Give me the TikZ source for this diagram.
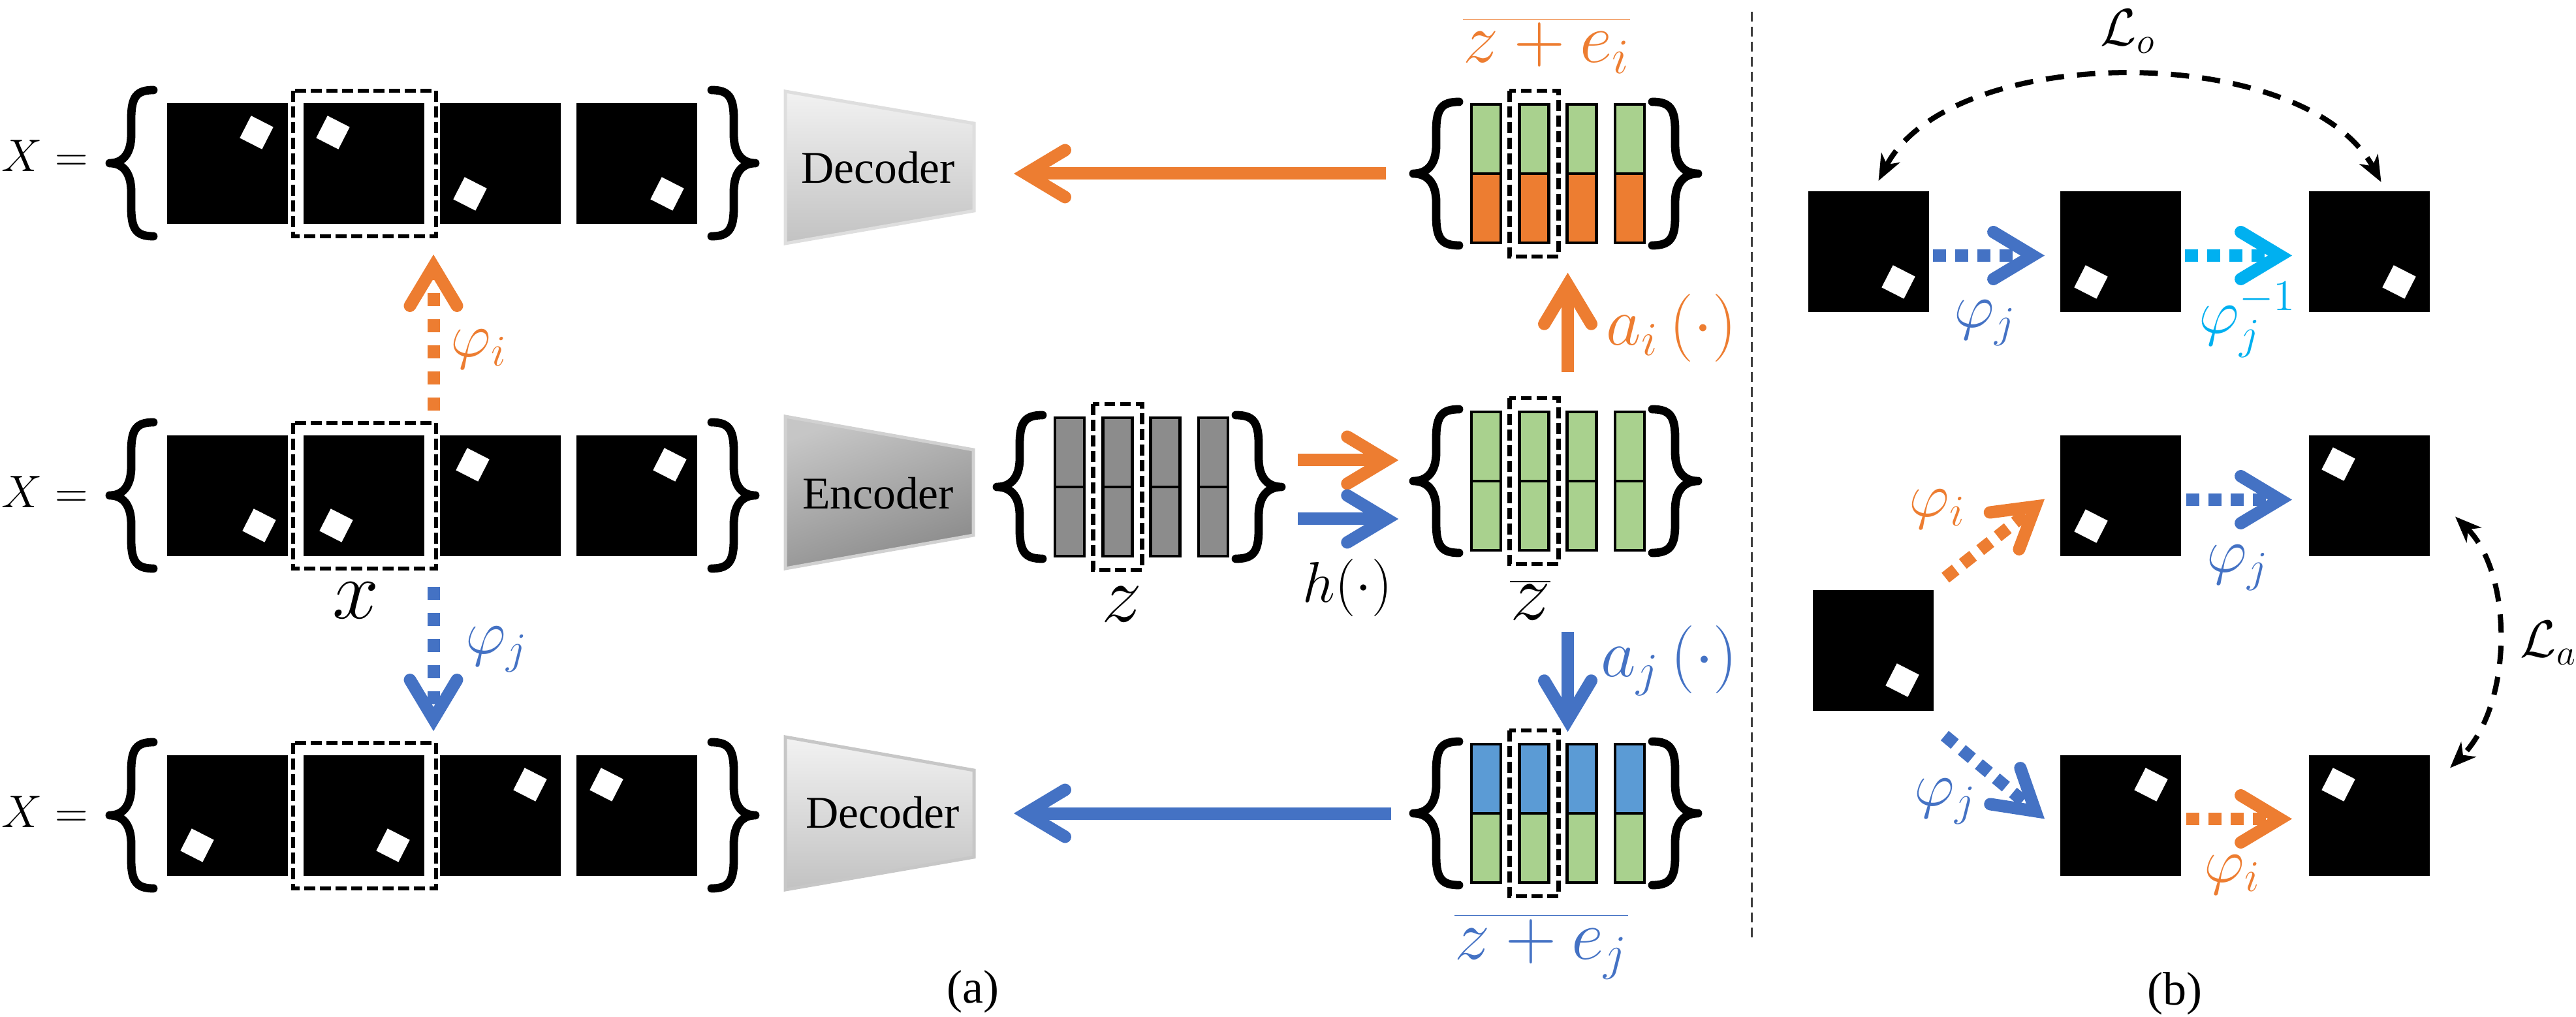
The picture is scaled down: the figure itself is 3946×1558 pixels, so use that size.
\RequirePackage{fix-cm}
\documentclass[tikz,border=0pt]{standalone}
\usepackage{fontspec}
\setmainfont{Liberation Serif}
\usetikzlibrary{arrows.meta,calc}
\definecolor{cor}{HTML}{ED7D31}
\definecolor{cbl}{HTML}{4472C4}
\definecolor{ccy}{HTML}{00B0F0}
\definecolor{cgr}{HTML}{A9D18E}
\definecolor{cbb}{HTML}{5B9BD5}
\definecolor{cgy}{HTML}{8C8C8C}
\definecolor{dtop}{HTML}{F2F2F2}
\definecolor{dmid}{HTML}{E6E6E6}
\definecolor{dbot}{HTML}{C2C2C2}
\definecolor{etop}{HTML}{C6C6C6}
\definecolor{ebot}{HTML}{8A8A8A}
\definecolor{sepc}{HTML}{404040}

\tikzset{
 img/.style={fill=black, minimum size=46.25pt, inner sep=0pt, outer sep=0pt},
 selbox/.style={line width=1.6pt, dash pattern=on 4.2pt off 1.8pt},
 bracesty/.style={line width=3.2pt, line cap=round, line join=round},
 bararrow/.style={line width=4.75pt, -{Straight Barb[length=15pt,width=18pt,line cap=round,line join=miter]}},
 dasharr/.style={bararrow, dash pattern=on 5pt off 5pt},
 dasharrb/.style={bararrow, dash pattern=on 5pt off 3.5pt},
 lossarr/.style={line width=2pt, dash pattern=on 7pt off 5pt, {Stealth[length=10pt,width=8pt,inset=3pt]}-{Stealth[length=10pt,width=8pt,inset=3pt]}},
 barline/.style={line width=1.2pt},
 lbl/.style={inner sep=0pt},
 sepline/.style={line width=0.75pt, sepc, dash pattern=on 3.75pt off 2pt},
}

% image with a white square spot: name, left x, top y, spot dx, spot dy
\newcommand{\mimg}[5]{%
  \node[img] (#1) at ({#2+92.5},{#3+92.5}) {};
  \fill[white, shift={({#2+#4},{#3+#5})}] (72:27) -- (162:27) -- (252:27) -- (342:27) -- cycle;
}
% curly brace: tip x, arm x, end x, top y, bottom y
\newcommand{\cbrace}[5]{%
  \pgfmathsetmacro{\brT}{#1}\pgfmathsetmacro{\brA}{#2}\pgfmathsetmacro{\brE}{#3}%
  \pgfmathsetmacro{\brY}{#4}\pgfmathsetmacro{\brB}{#5}%
  \pgfmathsetmacro{\brM}{(\brY+\brB)/2}\pgfmathsetmacro{\brD}{\brA-\brT}%
  \pgfmathsetmacro{\brC}{\brA+0.25*(\brE-\brA)}\pgfmathsetmacro{\brQ}{\brA-0.45*\brD}%
  \draw[bracesty] (\brE,\brY) .. controls (\brC,\brY) and (\brA,{\brY+10}) .. (\brA,{\brY+44})
    -- (\brA,{\brM-44}) .. controls (\brA,{\brM-12}) and (\brQ,\brM) .. (\brT,\brM)
    .. controls (\brQ,\brM) and (\brA,{\brM+12}) .. (\brA,{\brM+44})
    -- (\brA,{\brB-44}) .. controls (\brA,{\brB-10}) and (\brC,\brB) .. (\brE,\brB);
}
% latent set: name, left x, centre y, upper colour, lower colour
\newcommand{\latset}[5]{%
  \node[inner sep=0pt, minimum width=109pt, minimum height=55pt] (#1) at ({#2+218},#3) {};
  \cbrace{#2}{#2+35}{#2+70}{#3-110}{#3+110}
  \cbrace{#2+436}{#2+401}{#2+366}{#3-110}{#3+110}
  \foreach \k in {0,1,2,3}{
    \fill[#4] ({#2+89+73.3*\k},{#3-106}) rectangle ({#2+134+73.3*\k},#3);
    \fill[#5] ({#2+89+73.3*\k},#3) rectangle ({#2+134+73.3*\k},{#3+106});
    \draw[barline] ({#2+89+73.3*\k},{#3-106}) rectangle ({#2+134+73.3*\k},{#3+106});
    \draw[barline] ({#2+89+73.3*\k},#3) -- ({#2+134+73.3*\k},#3);
  }
  \draw[selbox] ({#2+89+73.3-15},{#3-127}) rectangle ({#2+134+73.3+15},{#3+127});
}
% image row decorations: top y
\newcommand{\imgrow}[1]{%
  \cbrace{168}{201}{235}{#1-20}{#1+204}
  \cbrace{1157}{1124}{1090}{#1-20}{#1+204}
  \draw[selbox] (449,{#1-19}) rectangle (668,{#1+204});
}

\begin{document}
\begin{tikzpicture}[x=0.25pt,y=-0.25pt]
\useasboundingbox (0,0) rectangle (3946,1558);

% ---------------- panel (a): image rows ----------------
\mimg{r1c1}{256}{158}{137}{45}
\mimg{r1c2}{465}{158}{45}{45}
\mimg{r1c3}{674}{158}{46}{139}
\mimg{r1c4}{883}{158}{139}{139}
\imgrow{158}

\mimg{r2c1}{256}{667}{141}{138}
\mimg{r2c2}{465}{667}{50}{138}
\mimg{r2c3}{674}{667}{50}{45}
\mimg{r2c4}{883}{667}{143}{45}
\imgrow{667}

\mimg{r3c1}{256}{1157}{46}{138}
\mimg{r3c2}{465}{1157}{137}{138}
\mimg{r3c3}{674}{1157}{138}{45}
\mimg{r3c4}{883}{1157}{46}{45}
\imgrow{1157}

\node[lbl, font=\fontsize{17.5}{21}\selectfont, anchor=base west] (X1) at (2,263) {$X=$};
\node[lbl, font=\fontsize{17.5}{21}\selectfont, anchor=base west] (X2) at (2,778) {$X=$};
\node[lbl, font=\fontsize{17.5}{21}\selectfont, anchor=base west] (X3) at (2,1267) {$X=$};
\node[lbl, font=\fontsize{32}{38}\selectfont, anchor=base] (lx) at (545,948) {$x$};

% ---------------- encoder / decoders ----------------
\shadedraw[draw=black!13, line width=1.25pt, top color=dtop, middle color=dmid, bottom color=dbot]
  (1203,140) -- (1492,189) -- (1492,323) -- (1203,373) -- cycle;
\shadedraw[draw=black!18, line width=1.25pt, top color=etop, bottom color=ebot, shading angle=20]
  (1203,638) -- (1491,689) -- (1491,820) -- (1203,871) -- cycle;
\shadedraw[draw=black!22, line width=1.25pt, top color=dtop, middle color=dmid, bottom color=dbot]
  (1203,1129) -- (1492,1180) -- (1492,1313) -- (1203,1363) -- cycle;
\node[lbl, font=\fontsize{17.4}{21}\selectfont, anchor=base] (dec1) at (1345,281) {Decoder};
\node[lbl, font=\fontsize{17.4}{21}\selectfont, anchor=base] (enc) at (1345,780) {Encoder};
\node[lbl, font=\fontsize{17.4}{21}\selectfont, anchor=base] (dec2) at (1352,1268) {Decoder};
\coordinate (dec1tip) at (1553,266);
\coordinate (dec2tip) at (1553,1246);

% ---------------- latent sets ----------------
\latset{zz}{1527}{746}{cgy}{cgy}
\latset{zbar}{2165}{737}{cgr}{cgr}
\latset{zei}{2165}{266}{cgr}{cor}
\latset{zej}{2165}{1246}{cbb}{cgr}

\node[lbl, cor, font=\fontsize{27}{32}\selectfont, anchor=base] (lzei) at (2369,96) {$\overline{z+e_i}$};
\node[lbl, cbl, font=\fontsize{27}{32}\selectfont, anchor=base] (lzej) at (2361,1469) {$\overline{z+e_j}$};
\node[lbl, font=\fontsize{31}{36}\selectfont, anchor=base] (lz) at (1718,953) {$z$};
\node[lbl, font=\fontsize{31}{36}\selectfont, anchor=base] (lzb) at (2344,950) {$\overline{z}$};
\node[lbl, font=\fontsize{22}{26}\selectfont, anchor=base] (lh) at (2064,923) {$h(\cdot)$};
\node[lbl, cor, font=\fontsize{26}{31}\selectfont, anchor=west] (lai) at (2460,503) {$a_i\left(\cdot\right)$};
\node[lbl, cbl, font=\fontsize{26}{31}\selectfont, anchor=west] (laj) at (2452,1012) {$a_j\left(\cdot\right)$};
\node[lbl, cor, font=\fontsize{24}{29}\selectfont, anchor=west] (lpi) at (690,535) {$\varphi_i$};
\node[lbl, cbl, font=\fontsize{24}{29}\selectfont, anchor=west] (lpj) at (713,995) {$\varphi_j$};

% ---------------- arrows (a) ----------------
\draw[bararrow, cor] ($(zei.west)+(-41,0)$) -- (dec1tip);
\draw[bararrow, cbl] ($(zej.west)+(-33,0)$) -- (dec2tip);
\draw[bararrow, cor] ($(zz.east)+(24,-41)$) -- ($(zbar.west)+(-22,-32)$);
\draw[bararrow, cbl] ($(zz.east)+(24,49)$) -- ($(zbar.west)+(-22,58)$);
\draw[bararrow, cor] ($(zbar.north)+(18.5,-56)$) -- ($(zei.south)+(18.5,41)$);
\draw[bararrow, cbl] ($(zbar.south)+(18.5,120)$) -- ($(zej.north)+(18.5,-14)$);
\draw[dasharr, cor] ($(r2c2.north east)+(14,-38)$) -- ($(r1c2.south east)+(14,47)$);
\draw[dasharr, cbl] ($(r2c2.south east)+(14,47)$) -- ($(r3c2.north east)+(14,-37)$);

% separator and captions
\draw[sepline] (2683,18) -- (2683,1436);
\node[lbl, font=\fontsize{18}{22}\selectfont] (capa) at (1490,1519) {(a)};
\node[lbl, font=\fontsize{18}{22}\selectfont] (capb) at (3331,1522) {(b)};

% ---------------- panel (b) ----------------
\mimg{b1}{2770}{293}{138}{139}
\mimg{b2}{3156}{293}{47}{139}
\mimg{b3}{3537}{293}{138}{139}
\mimg{bA}{3156}{667}{47}{139}
\mimg{bB}{3537}{667}{45}{44}
\mimg{bL}{2777}{904}{137}{138}
\mimg{bC}{3156}{1157}{139}{45}
\mimg{bD}{3537}{1157}{45}{45}

\draw[dasharrb, cbl] ($(b1.east)+(6,6)$) -- ($(b2.west)+(-24,6)$);
\draw[dasharrb, ccy] ($(b2.east)+(6,6)$) -- ($(b3.west)+(-26,6)$);
\draw[dasharrb, cbl] ($(bA.east)+(8,6)$) -- ($(bB.west)+(-26,6)$);
\draw[dasharrb, cor] ($(bC.east)+(8,5)$) -- ($(bD.west)+(-26,5)$);
\draw[dasharrb, cor] ($(bL.north east)+(18,-19)$) -- ($(bA.west)+(-24,5)$);
\draw[dasharrb, cbl] ($(bL.south east)+(17,38)$) -- ($(bC.west)+(-24,5)$);

\draw[lossarr] ($(b1.north)+(15,-16)$) .. controls ($(b1.north)+(127,-230)$) and ($(b3.north)+(-99,-230)$) .. ($(b3.north)+(18,-14)$);
\draw[lossarr] ($(bB.east)+(39,32)$) .. controls ($(bB.east)+(128,120)$) and ($(bD.east)+(128,-170)$) .. ($(bD.east)+(31,-73)$);

\node[lbl, font=\fontsize{20}{24}\selectfont, anchor=base west] (lLo) at (3217,70) {$\mathcal{L}_o$};
\node[lbl, font=\fontsize{20}{24}\selectfont, anchor=west] (lLa) at (3860,985) {$\mathcal{L}_a$};
\node[lbl, cbl, font=\fontsize{24}{29}\selectfont, anchor=west] (lb1) at (2993,495) {$\varphi_j$};
\node[lbl, ccy, font=\fontsize{24}{29}\selectfont, anchor=west] (lb2) at (3368,490) {$\varphi_j^{-1}$};
\node[lbl, cbl, font=\fontsize{24}{29}\selectfont, anchor=west] (lb3) at (3380,870) {$\varphi_j$};
\node[lbl, cor, font=\fontsize{24}{29}\selectfont, anchor=west] (lb4) at (2924,780) {$\varphi_i$};
\node[lbl, cbl, font=\fontsize{24}{29}\selectfont, anchor=west] (lb5) at (2932,1228) {$\varphi_j$};
\node[lbl, cor, font=\fontsize{24}{29}\selectfont, anchor=west] (lb6) at (3376,1340) {$\varphi_i$};
\end{tikzpicture}
\end{document}
